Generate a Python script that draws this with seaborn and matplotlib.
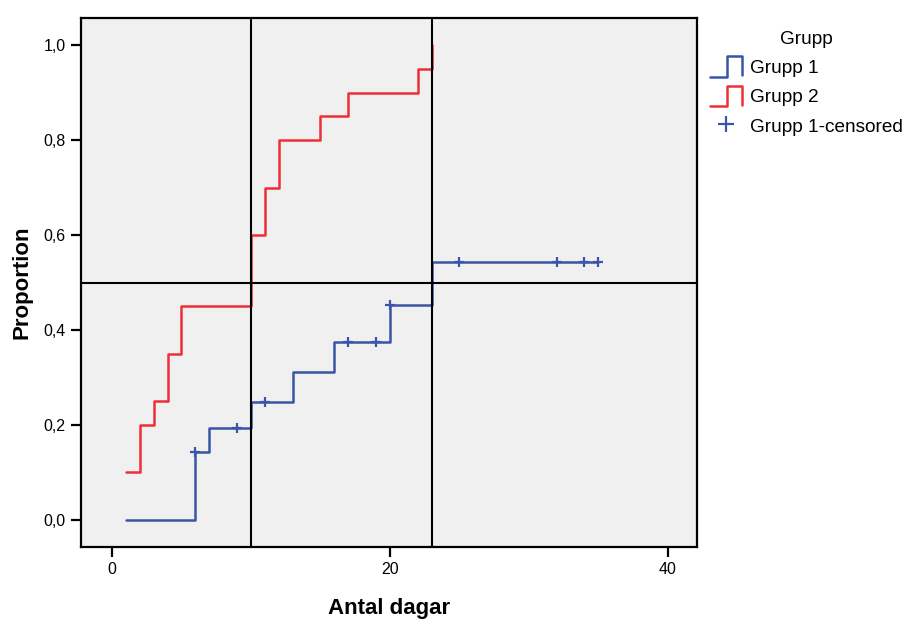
import numpy as np
import pandas as pd
import matplotlib
matplotlib.use('Agg')
import matplotlib.pyplot as plt
import seaborn as sns
from matplotlib.lines import Line2D
from matplotlib.legend_handler import HandlerBase
from matplotlib.ticker import FuncFormatter

# Grupp 1 (kumulativ andel, steg)
g1_time = [1, 6, 7, 10, 13, 16, 20, 23, 35]
g1_prop = [0.0, 0.143, 0.194, 0.248, 0.311, 0.374, 0.452, 0.543, 0.543]
# Grupp 2
g2_time = [1, 2, 3, 4, 5, 10, 11, 12, 15, 17, 22, 23]
g2_prop = [0.10, 0.20, 0.25, 0.35, 0.45, 0.60, 0.70, 0.80, 0.85, 0.90, 0.95, 1.00]
# censurerade i Grupp 1
cens_time = [6, 9, 11, 17, 19, 20, 25, 32, 34, 35]
cens_prop = [0.143, 0.194, 0.248, 0.374, 0.374, 0.452, 0.543, 0.543, 0.543, 0.543]
# referenslinjer (median)
ref_x = [10, 23]
ref_y = [0.5]

blue = '#3A55A8'
red = '#EE2E38'

df = pd.concat([
    pd.DataFrame({'t': g1_time, 'p': g1_prop, 'Grupp': 'Grupp 1'}),
    pd.DataFrame({'t': g2_time, 'p': g2_prop, 'Grupp': 'Grupp 2'}),
], ignore_index=True)
cens = pd.DataFrame({'t': cens_time, 'p': cens_prop})

sns.set_style('ticks', {'axes.facecolor': '#F0F0F0', 'axes.edgecolor': 'black',
                        'text.color': 'black', 'axes.labelcolor': 'black',
                        'xtick.color': 'black', 'ytick.color': 'black'})
plt.rcParams['font.family'] = ['Liberation Sans', 'DejaVu Sans']

fig = plt.figure(figsize=(9.13, 6.19), dpi=100)
ax = fig.add_axes([0.0887, 0.1163, 0.6747, 0.8546])

sns.lineplot(data=df, x='t', y='p', hue='Grupp', palette={'Grupp 1': blue, 'Grupp 2': red},
             drawstyle='steps-post', estimator=None, sort=False, linewidth=1.8, ax=ax, legend=False)
sns.scatterplot(data=cens, x='t', y='p', marker='+', color=blue, s=60, linewidth=1.6, ax=ax,
                legend=False, zorder=3)

for xv in ref_x:
    ax.axvline(xv, color='black', linewidth=1.5, zorder=4)
for yv in ref_y:
    ax.axhline(yv, color='black', linewidth=1.5, zorder=4)

ax.set_xlim(-2.23, 42.1)
ax.set_ylim(-0.057, 1.057)
ax.set_xticks([0, 20, 40])
ax.set_yticks([0, 0.2, 0.4, 0.6, 0.8, 1.0])
ax.yaxis.set_major_formatter(FuncFormatter(lambda v, p: f'{v:.1f}'.replace('.', ',')))
ax.tick_params(direction='out', length=7, width=1.6, labelsize=11.5, colors='black', pad=4)
for s in ax.spines.values():
    s.set_linewidth(1.6)
ax.set_xlabel('Antal dagar', fontsize=16, fontweight='bold', labelpad=15)
ax.set_ylabel('Proportion', fontsize=16, fontweight='bold', labelpad=8)


class StepHandler(HandlerBase):
    def create_artists(self, legend, orig_handle, xdescent, ydescent, width, height, fontsize, trans):
        x0, x1 = -xdescent, -xdescent + width
        y0, y1 = -ydescent - 0.05 * height, -ydescent + 1.05 * height
        xm = x0 + 0.53 * width
        line = Line2D([x0, xm, xm, x1, x1], [y0, y0, y1, y1, y0 + 0.1 * height],
                      color=orig_handle.get_color(), linewidth=1.8, transform=trans)
        return [line]


h1 = Line2D([], [], color=blue)
h2 = Line2D([], [], color=red)
h3 = Line2D([], [], color=blue, marker='+', linestyle='none', markersize=12, markeredgewidth=1.6)
leg = fig.legend([h1, h2, h3], ['Grupp 1', 'Grupp 2', 'Grupp 1-censored'], title='Grupp',
                 loc='upper left', bbox_to_anchor=(0.763, 0.972), frameon=False, fontsize=13.7,
                 title_fontsize=13.7, handlelength=1.7, handleheight=1.15, handletextpad=0.42,
                 labelspacing=0.5, borderaxespad=0.3,
                 handler_map={h1: StepHandler(), h2: StepHandler()})

fig.savefig('out.png', dpi=100)
